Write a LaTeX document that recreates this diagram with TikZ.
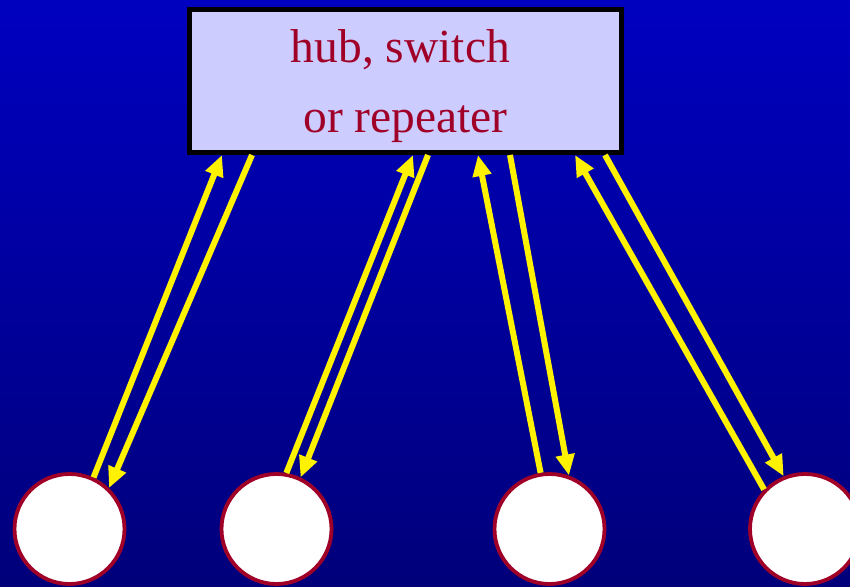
\documentclass[tikz,border=0pt]{standalone}
\usepackage{fontspec}
\setmainfont{Liberation Serif}
\usetikzlibrary{arrows.meta}

\definecolor{hubfill}{RGB}{204,204,255}
\definecolor{hubred}{RGB}{160,0,40}
\definecolor{bgtop}{RGB}{0,0,192}
\definecolor{bgbottom}{RGB}{0,0,122}

\begin{document}
\begin{tikzpicture}[x=1pt,y=-1pt]
            \tikzstyle{box} = [rectangle, draw=black, line width=5pt, fill=hubfill, minimum width=432pt, minimum height=143pt, inner sep=0pt, text=hubred, align=center, font=\fontsize{47.5}{70}\selectfont]
            \tikzstyle{station} = [circle, draw=hubred, line width=3.8pt, fill=white, minimum size=110pt, inner sep=0pt]
            \tikzstyle{arrow} = [yellow, line width=6pt, -{Triangle[length=21pt,width=18pt]}]

            % Background
            \fill [top color=bgtop, bottom color=bgbottom] (0,0) rectangle (850,586);
            \useasboundingbox (0,0) rectangle (850,586);

            % Nodes
            \node (hub) [box] at (405.5,81) {\rule{0pt}{44pt}hub, switch\hspace*{10pt}\\or repeater};
            \node (pc1) [station] at (69.5,529) {};
            \node (pc2) [station, right of=pc1, node distance=207pt] {};
            \node (pc3) [station, right of=pc2, node distance=273pt] {};
            \node (pc4) [station, right of=pc3, node distance=255.5pt] {};

            % Arrows
            \draw [arrow] (pc1.65) -- ([xshift=35pt]hub.south west);
            \draw [arrow] ([xshift=65pt]hub.south west) -- (pc1.46);
            \draw [arrow] (pc2.80) -- ([xshift=226pt]hub.south west);
            \draw [arrow] ([xshift=241pt]hub.south west) -- (pc2.65);
            \draw [arrow] (pc3.99) -- ([xshift=291pt]hub.south west);
            \draw [arrow] ([xshift=323pt]hub.south west) -- (pc3.70);
            \draw [arrow] (pc4.136) -- ([xshift=388pt]hub.south west);
            \draw [arrow] ([xshift=418pt]hub.south west) -- (pc4.112);
        \end{tikzpicture}
\end{document}
